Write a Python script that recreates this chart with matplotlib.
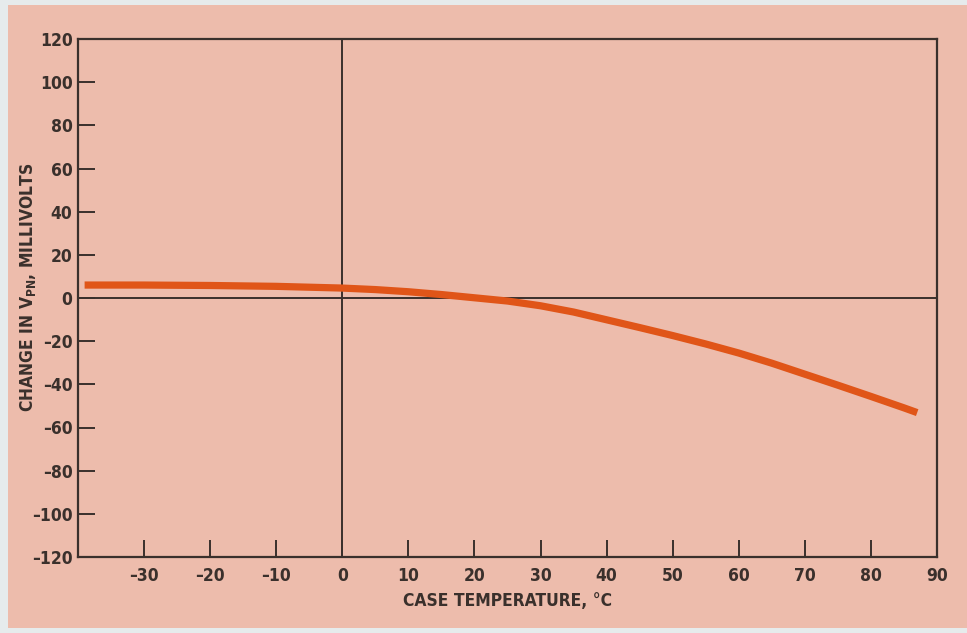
import matplotlib
matplotlib.use("Agg")
import matplotlib.pyplot as plt
from matplotlib.patches import Rectangle

# curve (case temperature in C, change in V_PN in mV)
temp_c = [-39, -30, -20, -10, 0, 5, 10, 15, 20, 25, 30, 35, 40, 45, 50, 55, 60, 65, 70, 75, 80, 85, 87]
delta_mv = [6.0, 6.0, 5.8, 5.4, 4.6, 3.9, 2.9, 1.6, 0.1, -1.4, -3.6, -6.5, -10.1, -13.7, -17.4,
            -21.3, -25.5, -30.2, -35.3, -40.4, -45.6, -50.9, -53.1]

x_ticks = [-30, -20, -10, 0, 10, 20, 30, 40, 50, 60, 70, 80, 90]
y_ticks = [-120, -100, -80, -60, -40, -20, 0, 20, 40, 60, 80, 100, 120]

""" colours """
bg_pink = '#edbcac'
ink = '#3a302c'
curve_col = '#e05518'

plt.rcParams['font.family'] = ['DejaVu Sans']
plt.rcParams['font.stretch'] = 'condensed'
plt.rcParams['mathtext.fontset'] = 'custom'
plt.rcParams['mathtext.rm'] = 'DejaVu Sans:bold'

fig = plt.figure(figsize=(9.67, 6.33), dpi=100)
fig.patch.set_facecolor('#e6ebec')
# pink card the chart is printed on
card = Rectangle((8 / 967, 5 / 633), 959 / 967, 623 / 633,
                 transform=fig.transFigure, facecolor=bg_pink,
                 edgecolor='none', zorder=-10)
fig.patches.append(card)

ax = fig.add_axes([78 / 967, (633 - 557) / 633, (937 - 78) / 967, (557 - 39) / 633])
ax.set_zorder(1)
ax.set_facecolor(bg_pink)

ax.axhline(0, color=ink, lw=1.4, zorder=2)
ax.axvline(0, color=ink, lw=1.4, zorder=2)
ax.plot(temp_c, delta_mv, color=curve_col, lw=5.2, solid_capstyle='butt',
        solid_joinstyle='round', zorder=3)

ax.set_xlim(-40, 90)
ax.set_ylim(-120, 120)
ax.set_xticks(x_ticks)
ax.set_yticks(y_ticks)
ax.set_xticklabels([str(v).replace('-', '\u2013') for v in x_ticks])
ax.set_yticklabels([str(v).replace('-', '\u2013') for v in y_ticks])

for s in ax.spines.values():
    s.set_color(ink)
    s.set_linewidth(1.6)

ax.tick_params(axis='both', direction='in', length=12, width=1.4, color=ink,
               labelcolor=ink, labelsize=12.5)
ax.tick_params(axis='x', pad=7)
ax.tick_params(axis='y', pad=4)
for lab in ax.get_xticklabels() + ax.get_yticklabels():
    lab.set_fontweight('bold')
    lab.set_fontstretch('condensed')

ax.set_xlabel('CASE TEMPERATURE, \u00b0C', color=ink, fontsize=12.5, fontweight='bold',
              fontstretch='condensed')
ax.xaxis.set_label_coords(0.5, -0.068)
ax.set_ylabel(r'CHANGE IN V$_{\mathregular{PN}}$, MILLIVOLTS', color=ink, fontsize=12.5,
              fontweight='bold', fontstretch='condensed')
ax.yaxis.set_label_coords(-0.046, 0.52)

plt.savefig('out.png', dpi=100, facecolor=fig.get_facecolor())
